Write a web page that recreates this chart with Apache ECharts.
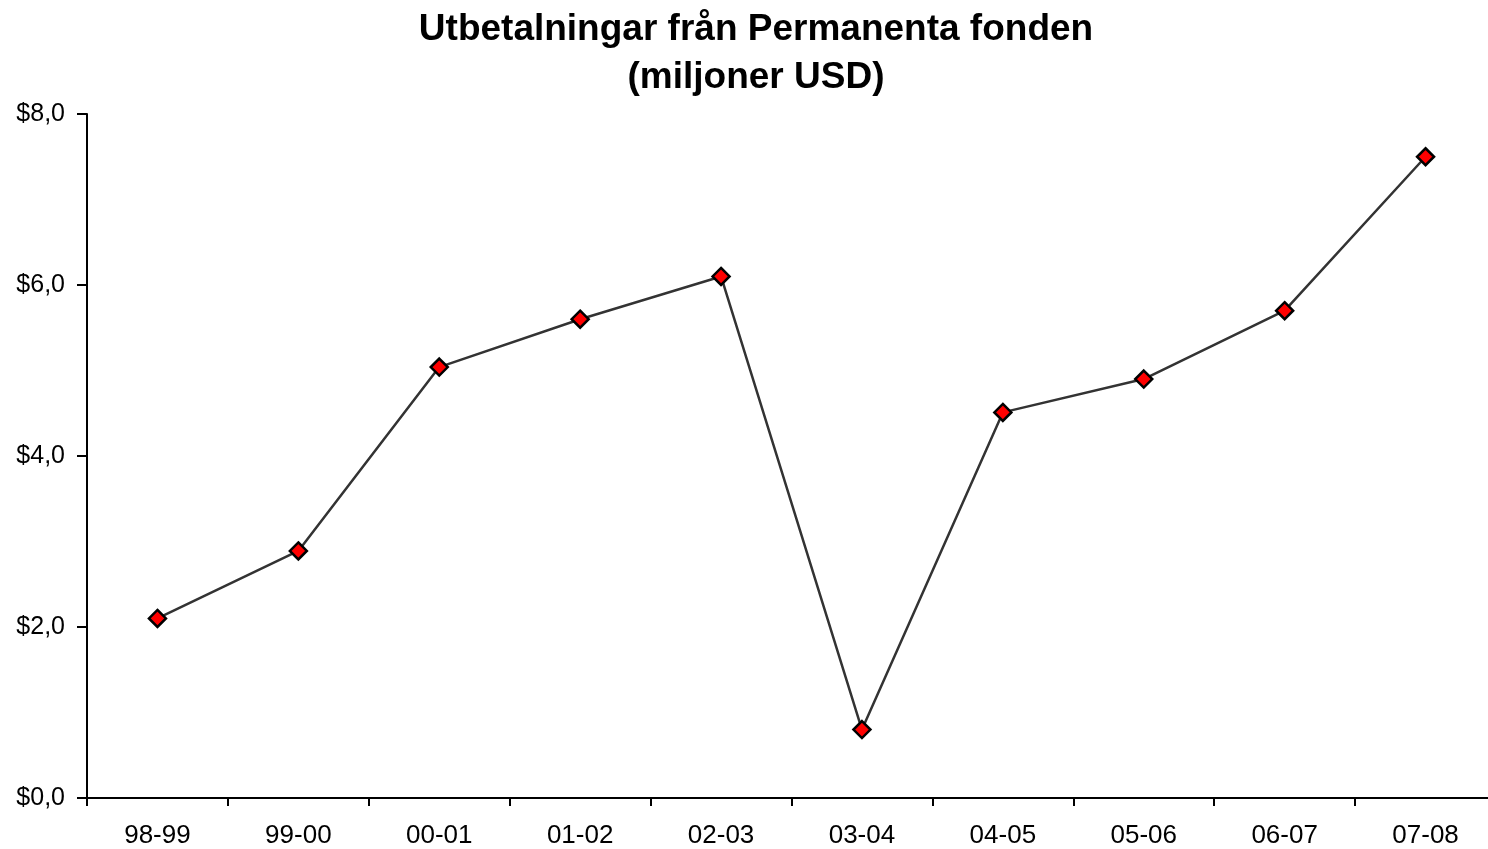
<!DOCTYPE html>
<html>
<head>
<meta charset="utf-8">
<script src="https://cdn.jsdelivr.net/npm/echarts@6/dist/echarts.min.js"></script>
<style>html,body{margin:0;padding:0;background:#fff;overflow:hidden}#c{width:1500px;height:849px}</style>
</head>
<body>
<div id="c"></div>
<script>
const categories = ['98-99','99-00','00-01','01-02','02-03','03-04','04-05','05-06','06-07','07-08'];
const payouts = [2.10, 2.89, 5.04, 5.60, 6.10, 0.80, 4.51, 4.90, 5.70, 7.50];
const yTicks = [0, 2, 4, 6, 8];
const titleText = 'Utbetalningar från Permanenta fonden\n(miljoner USD)';

const chart = echarts.init(document.getElementById('c'), null, {renderer: 'canvas'});
chart.setOption({
  animation: false,
  backgroundColor: '#fff',
  title: {
    text: titleText,
    left: 751,
    top: 1,
    textAlign: 'center',
    textStyle: {fontFamily: 'Liberation Sans, Arial', fontWeight: 'bold', fontSize: 37, lineHeight: 48, color: '#000'}
  },
  grid: {left: 87, top: 114, right: 4, bottom: 49, containLabel: false},
  xAxis: {
    type: 'category',
    data: categories,
    boundaryGap: true,
    axisLine: {lineStyle: {color: '#000', width: 2}},
    axisTick: {show: true, length: 8, lineStyle: {color: '#000', width: 2}},
    axisLabel: {color: '#000', fontSize: 26, fontFamily: 'Liberation Sans, Arial', margin: 25},
    splitLine: {show: false}
  },
  yAxis: {
    type: 'value',
    min: yTicks[0],
    max: yTicks[yTicks.length - 1],
    interval: 2,
    axisLine: {show: true, lineStyle: {color: '#000', width: 2}},
    axisTick: {show: true, length: 10, lineStyle: {color: '#000', width: 2}},
    axisLabel: {color: '#000', fontSize: 25, fontFamily: 'Liberation Sans, Arial', margin: 22,
      formatter: v => '$' + v.toFixed(1).replace('.', ',')},
    splitLine: {show: false}
  },
  series: [{
    type: 'line',
    data: payouts,
    symbol: 'diamond',
    symbolSize: 17,
    lineStyle: {color: '#333', width: 2.5},
    itemStyle: {color: '#ff0000', borderColor: '#000', borderWidth: 2.5},
    emphasis: {disabled: true}
  }]
});
</script>
</body>
</html>
